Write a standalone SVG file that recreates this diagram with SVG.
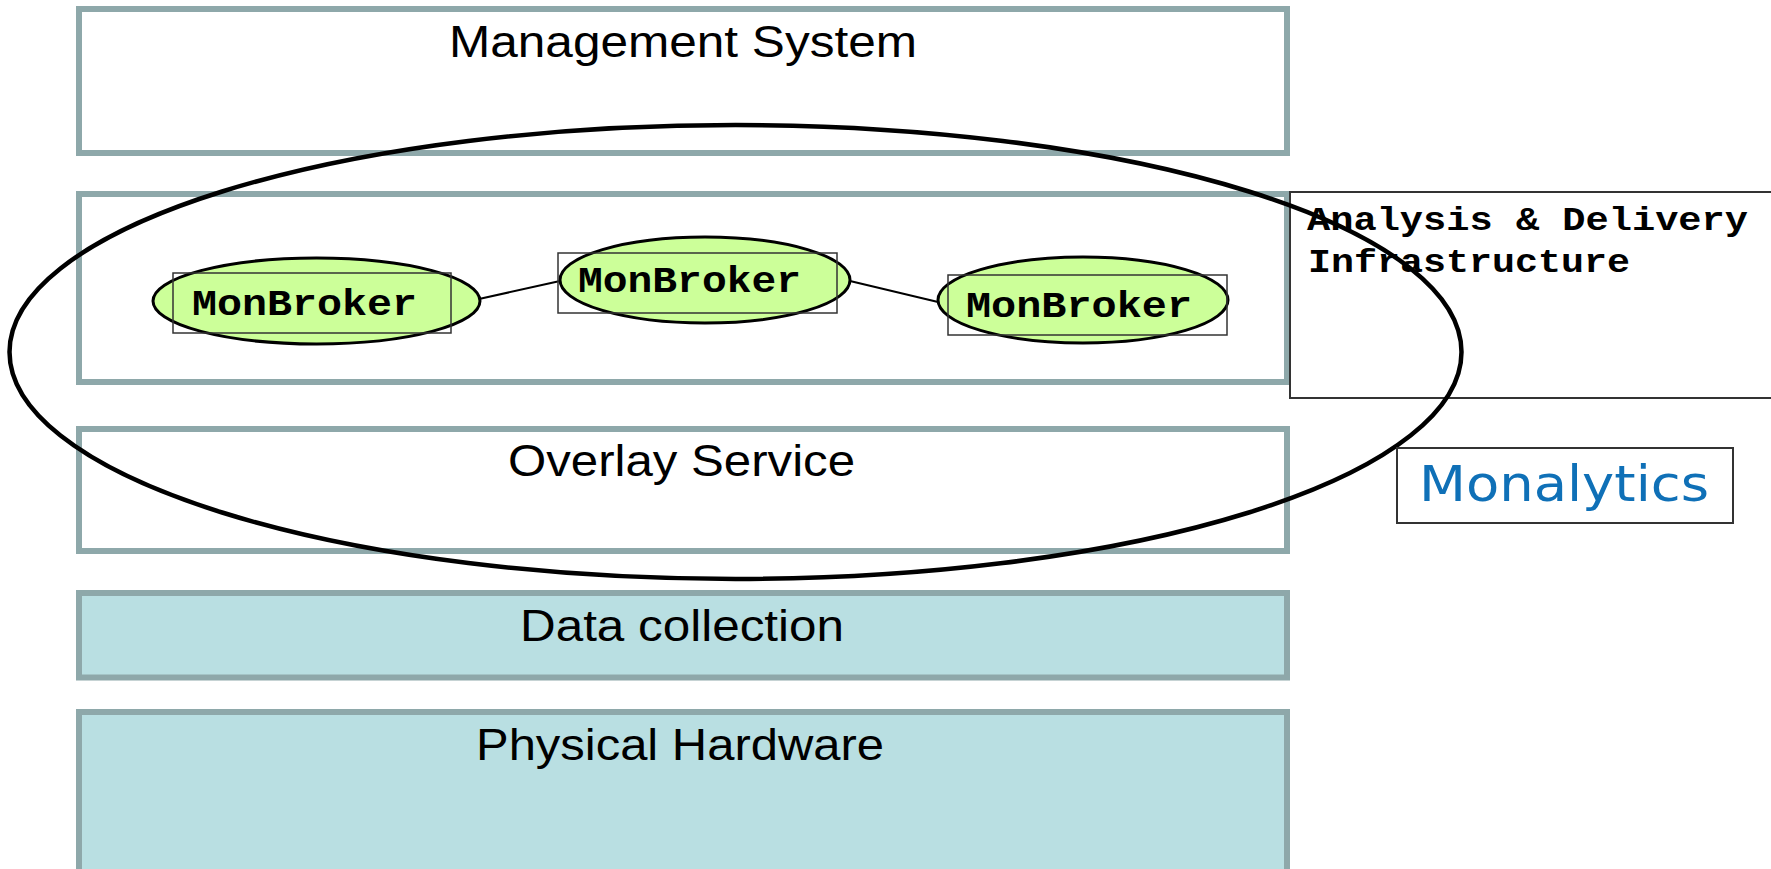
<svg xmlns="http://www.w3.org/2000/svg" width="1771" height="869" viewBox="0 0 1771 869">
  <style>
    .layer { fill: #ffffff; stroke: #8ea8aa; stroke-width: 6; }
    .layer.hw { fill: #b9dfe2; }
    .layer-label { font-family: "Liberation Sans", Arial, sans-serif; font-size: 45px; fill: #000000; }
    .broker { fill: #ccff99; stroke: #000000; stroke-width: 3; }
    .broker-frame { fill: none; stroke: #333333; stroke-width: 1.5; }
    .broker-label { font-family: "Liberation Mono", "Courier New", monospace; font-weight: bold; font-size: 37px; fill: #000000; }
    .link { stroke: #000000; stroke-width: 2; fill: none; }
    .note-frame { fill: #ffffff; stroke: #333333; stroke-width: 2; }
    .note-label { font-family: "Liberation Mono", "Courier New", monospace; font-weight: bold; font-size: 34px; fill: #000000; }
    .scope { fill: none; stroke: #000000; stroke-width: 4.5; }
    .brand { font-family: "DejaVu Sans", Verdana, sans-serif; font-size: 49px; fill: #0f70b7; }
  </style>

  <rect width="1771" height="869" fill="#ffffff"/>

  <!-- Stack of layers -->
  <g id="management-system">
    <rect class="layer" x="79" y="9" width="1208" height="144"/>
    <text class="layer-label" x="449" y="57" textLength="468" lengthAdjust="spacingAndGlyphs">Management System</text>
  </g>

  <g id="broker-layer">
    <rect class="layer" x="79" y="194" width="1208" height="188"/>
  </g>

  <g id="analysis-delivery">
    <rect class="note-frame" x="1290" y="192" width="490" height="206"/>
    <text class="note-label" x="1307" y="230" textLength="441" lengthAdjust="spacingAndGlyphs">Analysis &amp; Delivery</text>
    <text class="note-label" x="1308" y="272" textLength="322" lengthAdjust="spacingAndGlyphs">Infrastructure</text>
  </g>

  <g id="overlay-service">
    <rect class="layer" x="79" y="429" width="1208" height="122"/>
    <text class="layer-label" x="508" y="476" textLength="347" lengthAdjust="spacingAndGlyphs">Overlay Service</text>
  </g>

  <g id="data-collection">
    <rect class="layer hw" x="79" y="593" width="1208" height="84.5"/>
    <text class="layer-label" x="520" y="641" textLength="324" lengthAdjust="spacingAndGlyphs">Data collection</text>
  </g>

  <g id="physical-hardware">
    <rect class="layer hw" x="79" y="712" width="1208" height="170"/>
    <text class="layer-label" x="476" y="760" textLength="408" lengthAdjust="spacingAndGlyphs">Physical Hardware</text>
  </g>

  <!-- Broker links -->
  <g id="connectors">
    <line class="link" x1="479" y1="299" x2="560" y2="281"/>
    <line class="link" x1="850" y1="281" x2="938" y2="302"/>
  </g>

  <!-- Broker nodes -->
  <g id="broker-1">
    <ellipse class="broker" cx="316.5" cy="301" rx="163.5" ry="43"/>
    <rect class="broker-frame" x="173" y="273" width="278" height="60"/>
    <text class="broker-label" x="192" y="315" textLength="225" lengthAdjust="spacingAndGlyphs">MonBroker</text>
  </g>

  <g id="broker-2">
    <ellipse class="broker" cx="705" cy="280" rx="145" ry="43"/>
    <rect class="broker-frame" x="558" y="253" width="279" height="60"/>
    <text class="broker-label" x="578" y="292" textLength="223" lengthAdjust="spacingAndGlyphs">MonBroker</text>
  </g>

  <g id="broker-3">
    <ellipse class="broker" cx="1083" cy="300" rx="145" ry="43"/>
    <rect class="broker-frame" x="948" y="275" width="279" height="60"/>
    <text class="broker-label" x="966" y="317" textLength="226" lengthAdjust="spacingAndGlyphs">MonBroker</text>
  </g>

  <!-- Scope outline around the brokers and overlay -->
  <g id="monalytics-scope">
    <ellipse class="scope" cx="735.5" cy="352" rx="726" ry="227"/>
  </g>

  <g id="monalytics-label">
    <rect class="note-frame" x="1397" y="448" width="336" height="75"/>
    <text class="brand" x="1419" y="501" textLength="290" lengthAdjust="spacingAndGlyphs">Monalytics</text>
  </g>
</svg>
